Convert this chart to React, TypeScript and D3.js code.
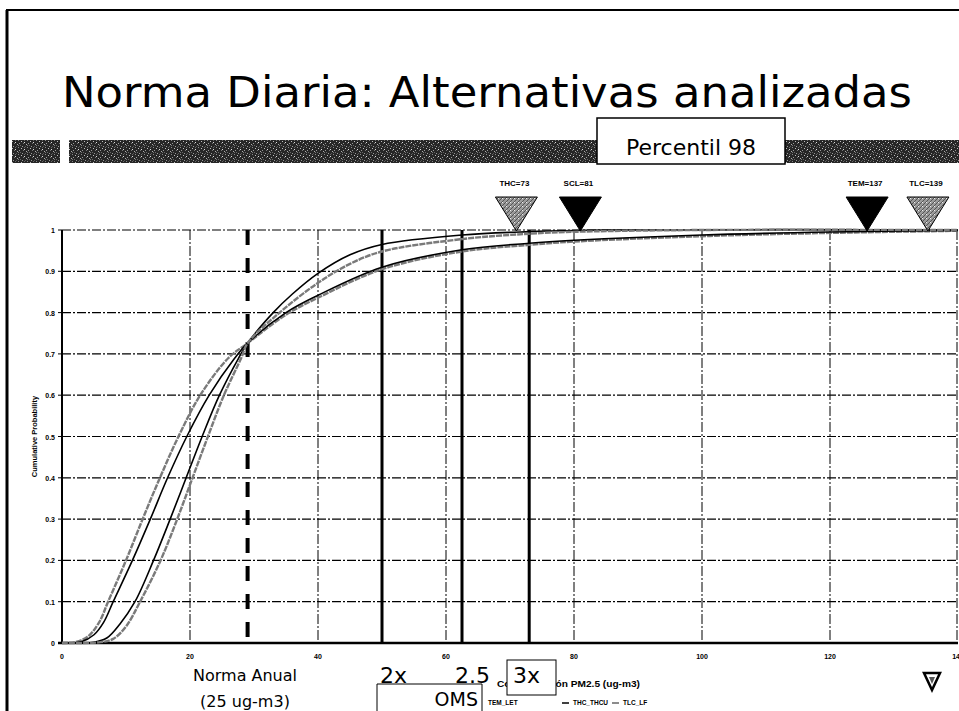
import React, { useEffect, useRef } from 'react';
import * as d3 from 'd3';

// x ticks (ug-m3) and y ticks (probability)
const xTicks = [0, 20, 40, 60, 80, 100, 120, 140];
const yTicks = [0, 0.1, 0.2, 0.3, 0.4, 0.5, 0.6, 0.7, 0.8, 0.9, 1];

// cumulative curves: [concentration, probability]
const tlcLf = [[0, 0], [2, 0.002], [4, 0.015], [5.8, 0.05], [7.2, 0.1], [10, 0.2], [12.6, 0.3], [15.3, 0.4], [18.2, 0.5], [21.6, 0.6], [26, 0.69], [29, 0.726], [35, 0.795], [40, 0.836], [50, 0.905], [62.5, 0.948], [73, 0.964], [80, 0.972], [100, 0.985], [120, 0.993], [140, 0.998]];
const temLet = [[0, 0], [3, 0.003], [5, 0.02], [6.5, 0.05], [8, 0.1], [11, 0.2], [13.8, 0.3], [16.5, 0.4], [19.5, 0.5], [23, 0.6], [27, 0.69], [29, 0.726], [35, 0.8], [40, 0.842], [50, 0.91], [62.5, 0.952], [73, 0.968], [80, 0.975], [100, 0.988], [120, 0.995], [140, 0.999]];
const thcThcu = [[0, 0], [5, 0.002], [7, 0.012], [9, 0.045], [11.4, 0.1], [14.3, 0.2], [16.9, 0.3], [19.4, 0.4], [21.9, 0.5], [24.6, 0.6], [27.6, 0.69], [29, 0.726], [33, 0.8], [36, 0.845], [40, 0.895], [45, 0.94], [50, 0.965], [62.5, 0.988], [73, 0.996], [85, 1], [140, 1]];
const sclCurve = [[0, 0], [6, 0.002], [8, 0.01], [10, 0.04], [12.2, 0.1], [15.4, 0.2], [18, 0.3], [20.4, 0.4], [22.8, 0.5], [25.3, 0.6], [28, 0.69], [29, 0.726], [34, 0.8], [40, 0.872], [45, 0.918], [50, 0.948], [62.5, 0.978], [73, 0.991], [81, 0.996], [100, 1], [140, 1]];

const seriesList = [
  { name: 'TLC_LF', pts: tlcLf, grey: true },
  { name: 'TEM_LET', pts: temLet, grey: false },
  { name: 'THC_THCU', pts: thcThcu, grey: false },
  { name: 'SCL', pts: sclCurve, grey: true },
];

// reference lines
const annualNorm = 29;
const omsLines = [50, 62.5, 73];
const omsLabels = ['2x', '2.5', '3x'];

// percentile 98 markers
const markerNames = ['THC=73', 'SCL=81', 'TEM=137', 'TLC=139'];
const markerPos = [71, 81, 125.8, 135.3];
const markerGrey = [true, false, false, true];

const legendNames = ['TEM_LET', 'THC_THCU', 'TLC_LF'];

export default function App() {
  const ref = useRef<SVGSVGElement>(null);

  useEffect(() => {
    document.body.style.margin = '0';
    const svg = d3.select(ref.current);
    svg.selectAll('*').remove();

    const x = d3.scaleLinear().domain([0, 140]).range([62, 958]);
    const y = d3.scaleLinear().domain([0, 1]).range([643, 230]);
    const arial = 'Liberation Sans, Arial, sans-serif';
    const title = 'DejaVu Sans, sans-serif';

    const defs = svg.append('defs');
    // speckled scan texture
    const noise = defs.append('pattern').attr('id', 'noise').attr('patternUnits', 'userSpaceOnUse')
      .attr('width', 9).attr('height', 7);
    noise.append('rect').attr('width', 9).attr('height', 7).attr('fill', '#262626');
    [[0, 0, '#888'], [3, 1, '#bbb'], [6, 0, '#666'], [1, 3, '#999'], [5, 3, '#777'], [8, 4, '#aaa'],
      [2, 5, '#666'], [4, 6, '#999'], [7, 6, '#555'], [0, 5, '#777'], [6, 2, '#ddd']].forEach(([px, py, c]) => {
      noise.append('rect').attr('x', px).attr('y', py).attr('width', 1).attr('height', 1).attr('fill', c as string);
    });
    const hatch = defs.append('pattern').attr('id', 'hatch').attr('patternUnits', 'userSpaceOnUse')
      .attr('width', 4).attr('height', 4);
    hatch.append('rect').attr('width', 4).attr('height', 4).attr('fill', '#9a9a9a');
    hatch.append('path').attr('d', 'M0,4 L4,0').attr('stroke', '#444').attr('stroke-width', 0.8);
    hatch.append('rect').attr('x', 2).attr('y', 2).attr('width', 1).attr('height', 1).attr('fill', '#eee');

    svg.append('rect').attr('width', 959).attr('height', 711).attr('fill', '#fff');

    // slide frame
    svg.append('line').attr('x1', 6).attr('x2', 959).attr('y1', 10).attr('y2', 10).attr('stroke', '#000').attr('stroke-width', 2);
    svg.append('line').attr('x1', 7).attr('x2', 7).attr('y1', 10).attr('y2', 711).attr('stroke', '#000').attr('stroke-width', 3);

    svg.append('text').attr('x', 62).attr('y', 107).attr('font-family', title).attr('font-size', 42)
      .attr('textLength', 850).attr('lengthAdjust', 'spacingAndGlyphs').attr('fill', '#000')
      .text('Norma Diaria: Alternativas analizadas');

    // noisy band
    [[12, 60], [69, 597], [785, 959]].forEach(([a, b]) => {
      svg.append('rect').attr('x', a).attr('y', 140).attr('width', b - a).attr('height', 23).attr('fill', 'url(#noise)');
    });
    svg.append('rect').attr('x', 597).attr('y', 118).attr('width', 188).attr('height', 46)
      .attr('fill', '#fff').attr('stroke', '#000').attr('stroke-width', 1.5);
    svg.append('text').attr('x', 691).attr('y', 155).attr('text-anchor', 'middle').attr('font-family', title)
      .attr('font-size', 22).text('Percentil 98');

    const g = svg.append('g');

    // grid
    g.selectAll('.hgrid').data(yTicks.slice(1)).enter().append('line')
      .attr('x1', x(0)).attr('x2', x(140)).attr('y1', (d) => y(d)).attr('y2', (d) => y(d))
      .attr('stroke', '#000').attr('stroke-width', 1.2).attr('stroke-dasharray', '9,2,2,2');
    g.selectAll('.vgrid').data(xTicks.slice(1)).enter().append('line')
      .attr('x1', (d) => x(d) - (d === 140 ? 1 : 0)).attr('x2', (d) => x(d) - (d === 140 ? 1 : 0))
      .attr('y1', y(1)).attr('y2', y(0))
      .attr('stroke', '#000').attr('stroke-width', 1).attr('stroke-dasharray', '10,2,2,2');

    // axes
    g.append('line').attr('x1', x(0)).attr('x2', x(0)).attr('y1', y(1)).attr('y2', y(0)).attr('stroke', '#000').attr('stroke-width', 2);
    g.append('line').attr('x1', x(0) - 4).attr('x2', x(140)).attr('y1', y(0)).attr('y2', y(0)).attr('stroke', '#000').attr('stroke-width', 2.5);
    g.selectAll('.yt').data(yTicks).enter().append('line')
      .attr('x1', x(0) - 4).attr('x2', x(0)).attr('y1', (d) => y(d)).attr('y2', (d) => y(d)).attr('stroke', '#000');
    g.selectAll('.yl').data(yTicks).enter().append('text')
      .attr('x', x(0) - 7).attr('y', (d) => y(d) + 3).attr('text-anchor', 'end')
      .attr('font-family', arial).attr('font-weight', 'bold').attr('font-size', 7).text((d) => String(d));
    g.selectAll('.xl').data(xTicks).enter().append('text')
      .attr('x', (d) => x(d)).attr('y', 659).attr('text-anchor', 'middle')
      .attr('font-family', arial).attr('font-weight', 'bold').attr('font-size', 7).text((d) => String(d));
    g.append('text').attr('transform', `translate(37,${y(0.5)}) rotate(-90)`).attr('text-anchor', 'middle')
      .attr('font-family', arial).attr('font-weight', 'bold').attr('font-size', 7.5).text('Cumulative Probability');

    // reference lines
    g.append('line').attr('x1', x(annualNorm)).attr('x2', x(annualNorm)).attr('y1', y(1)).attr('y2', y(0))
      .attr('stroke', '#000').attr('stroke-width', 4).attr('stroke-dasharray', '15,13');
    g.selectAll('.oms').data(omsLines).enter().append('line')
      .attr('x1', (d) => x(d)).attr('x2', (d) => x(d)).attr('y1', y(1)).attr('y2', y(0))
      .attr('stroke', '#000').attr('stroke-width', 3);

    // curves
    const line = d3.line<number[]>().curve(d3.curveCatmullRom.alpha(0.5)).x((d) => x(d[0])).y((d) => y(d[1]));
    seriesList.forEach((s) => {
      g.append('path').attr('d', line(s.pts)).attr('fill', 'none')
        .attr('stroke', s.grey ? '#7a7a7a' : '#000').attr('stroke-width', s.grey ? 2.4 : 1.6)
        .attr('stroke-dasharray', s.grey ? '6,1' : null);
    });

    // percentile markers
    markerPos.forEach((v, i) => {
      const cx = x(v);
      g.append('path').attr('d', `M${cx - 21},197 L${cx + 21},197 L${cx},231 Z`)
        .attr('fill', markerGrey[i] ? 'url(#hatch)' : '#000').attr('stroke', '#000').attr('stroke-width', 1);
      g.append('text').attr('x', cx - 2).attr('y', 186).attr('text-anchor', 'middle')
        .attr('font-family', arial).attr('font-weight', 'bold').attr('font-size', 8).text(markerNames[i]);
    });

    // bottom annotations
    svg.append('text').attr('x', 245).attr('y', 681).attr('text-anchor', 'middle').attr('font-family', title)
      .attr('font-size', 16).text('Norma Anual');
    svg.append('text').attr('x', 245).attr('y', 707).attr('text-anchor', 'middle').attr('font-family', title)
      .attr('font-size', 16).text('(25 ug-m3)');
    svg.append('text').attr('x', 497).attr('y', 687).attr('font-family', arial).attr('font-weight', 'bold')
      .attr('font-size', 8.5).attr('textLength', 143).attr('lengthAdjust', 'spacingAndGlyphs')
      .text('Concentración PM2.5 (ug-m3)');

    const omsX = [380, 455, 513];
    omsLabels.forEach((t, i) => {
      if (i === 2) {
        svg.append('rect').attr('x', 507).attr('y', 660).attr('width', 49).attr('height', 35)
          .attr('fill', '#fff').attr('stroke', '#000').attr('stroke-width', 1);
      }
      svg.append('text').attr('x', omsX[i]).attr('y', 683).attr('font-family', title).attr('font-size', 22).text(t);
    });
    svg.append('path').attr('d', 'M377,711 L377,684 L482,684 L482,711').attr('fill', '#fff').attr('stroke', '#000').attr('stroke-width', 1);
    svg.append('text').attr('x', 478).attr('y', 706).attr('text-anchor', 'end').attr('font-family', title)
      .attr('font-size', 19).text('OMS');

    // legend
    const legX = [488, 573, 623];
    legendNames.forEach((n, i) => {
      if (i > 0) {
        svg.append('line').attr('x1', legX[i] - 11).attr('x2', legX[i] - 4).attr('y1', 703).attr('y2', 703)
          .attr('stroke', i === 2 ? '#666' : '#000').attr('stroke-width', 1.5);
      }
      svg.append('text').attr('x', legX[i]).attr('y', 705).attr('font-family', arial).attr('font-weight', 'bold')
        .attr('font-size', 6.5).text(n);
    });

    // small marker at bottom right
    svg.append('path').attr('d', 'M924,673 L940,673 L932,690 Z').attr('fill', '#fff').attr('stroke', '#000').attr('stroke-width', 2.5);
    svg.append('path').attr('d', 'M929,677 L935,677 L932,684 Z').attr('fill', '#555');
  }, []);

  return <svg ref={ref} width={959} height={711} style={{ display: 'block' }} />;
}
